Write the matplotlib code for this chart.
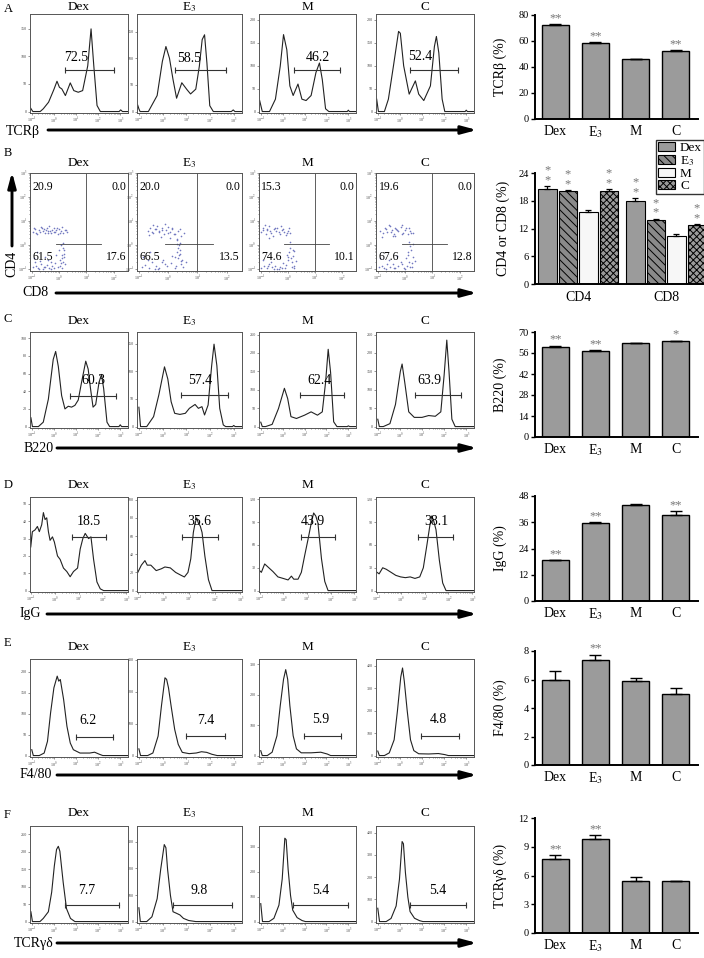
import numpy as np
import matplotlib
matplotlib.use("Agg")
import matplotlib.pyplot as plt
from matplotlib.patches import Patch, FancyArrowPatch

plt.rcParams['font.family'] = ['Liberation Serif', 'DejaVu Serif']
plt.rcParams['mathtext.fontset'] = 'stix'
plt.rcParams['hatch.linewidth'] = 0.7

W, H = 704, 958
fig = plt.figure(figsize=(W / 100, H / 100), dpi=100)

groups = ['Dex', 'E$_3$', 'M', 'C']

# ---------------- histogram data (log10 intensity, counts) ----------------
tcrb_dex_lx = [-1.08, -1.0, -0.95, -0.62, -0.48, -0.24, 0.0, 0.14, 0.25, 0.36, 0.52, 0.74, 0.9, 1.1, 1.3, 1.53, 1.68, 1.8, 1.95, 2.1, 2.95, 3.02, 3.1, 3.35]
tcrb_dex_ct = [8, 3, 0, 0, 5, 17, 40, 55, 44, 41, 29, 52, 38, 35, 38, 83, 150, 85, 11, 0, 0, 3, 0, 0]
tcrb_e3_lx = [-1.05, -1.0, -0.95, -0.6, -0.23, -0.01, 0.14, 0.29, 0.44, 0.59, 0.81, 1.03, 1.18, 1.4, 1.55, 1.67, 1.77, 1.87, 1.99, 2.14, 2.9, 2.98, 3.05, 3.35]
tcrb_e3_ct = [12, 5, 0, 0, 30, 94, 122, 100, 60, 25, 54, 41, 33, 42, 85, 135, 144, 91, 11, 0, 0, 3, 0, 0]
tcrb_m_lx = [-1.05, -0.93, -0.85, -0.6, -0.33, -0.11, 0.04, 0.19, 0.33, 0.48, 0.7, 0.88, 1.07, 1.3, 1.52, 1.68, 1.81, 1.96, 2.11, 2.95, 3.0, 3.05, 3.35]
tcrb_m_ct = [24, 0, 0, 0, 27, 99, 168, 135, 56, 35, 60, 27, 24, 35, 85, 106, 70, 6, 0, 0, 3, 0, 0]
tcrb_c_lx = [-1.05, -0.97, -0.9, -0.7, -0.52, -0.29, -0.06, 0.02, 0.17, 0.42, 0.7, 0.85, 1.08, 1.38, 1.56, 1.65, 1.76, 1.91, 2.03, 2.95, 3.0, 3.05, 3.35]
tcrb_c_ct = [27, 0, 0, 0, 27, 100, 175, 171, 100, 38, 67, 38, 24, 56, 142, 164, 128, 27, 0, 0, 3, 0, 0]

b220_dex_lx = [-1.04, -0.97, -0.7, -0.48, -0.25, -0.03, 0.08, 0.2, 0.35, 0.5, 0.65, 0.8, 0.95, 1.1, 1.25, 1.44, 1.55, 1.65, 1.77, 1.89, 2.04, 2.15, 2.25, 2.4, 2.52, 2.94, 3.0, 3.06, 3.35]
b220_dex_ct = [10, 0, 0, 5, 31, 76, 85, 68, 35, 20, 23, 22, 24, 30, 50, 74, 65, 44, 22, 25, 50, 59, 43, 5, 0, 0, 2, 0, 0]
b220_e3_lx = [-1.0, -0.93, -0.67, -0.38, -0.16, 0.08, 0.22, 0.36, 0.51, 0.73, 0.96, 1.13, 1.37, 1.51, 1.66, 1.77, 1.92, 2.07, 2.17, 2.29, 2.41, 2.56, 2.66, 2.95, 3.0, 3.06, 3.35]
b220_e3_ct = [35, 0, 0, 18, 57, 108, 86, 45, 24, 22, 24, 33, 40, 33, 36, 21, 39, 110, 149, 110, 33, 3, 0, 0, 2, 0, 0]
b220_m_lx = [-1.0, -0.93, -0.78, -0.48, -0.19, 0.08, 0.23, 0.38, 0.63, 1.0, 1.3, 1.59, 1.81, 1.96, 2.08, 2.19, 2.33, 2.48, 2.95, 3.0, 3.06, 3.35]
b220_m_ct = [12, 0, 0, 6, 49, 104, 76, 27, 22, 31, 40, 31, 40, 120, 210, 147, 13, 0, 0, 2, 0, 0]
b220_c_lx = [-1.0, -0.93, -0.75, -0.45, -0.2, 0.02, 0.1, 0.22, 0.4, 0.65, 1.0, 1.3, 1.6, 1.85, 2.0, 2.12, 2.22, 2.35, 2.5, 3.35]
b220_c_ct = [20, 0, 0, 8, 60, 150, 170, 120, 40, 25, 25, 30, 28, 40, 140, 235, 150, 20, 0, 0]

igg_dex_lx = [-1.03, -1.0, -0.93, -0.82, -0.72, -0.64, -0.54, -0.47, -0.4, -0.33, -0.26, -0.19, -0.09, -0.01, 0.12, 0.23, 0.37, 0.51, 0.65, 0.79, 0.96, 1.07, 1.18, 1.28, 1.42, 1.52, 1.63, 1.77, 1.91, 2.05, 3.07]
igg_dex_ct = [52, 25, 34, 35, 37, 34, 38, 45, 41, 42, 34, 29, 31, 28, 20, 18, 13, 11, 8, 11, 13, 24, 30, 33, 30, 31, 18, 5, 1, 0, 0]
igg_e3_lx = [-1.0, -0.86, -0.72, -0.63, -0.49, -0.28, -0.08, 0.06, 0.27, 0.48, 0.68, 0.82, 0.96, 1.07, 1.17, 1.23, 1.3, 1.37, 1.44, 1.51, 1.62, 1.76, 1.9, 3.07]
igg_e3_ct = [20, 28, 33, 28, 28, 22, 24, 26, 25, 20, 17, 15, 20, 35, 64, 73, 80, 74, 71, 64, 38, 12, 0, 0]
igg_m_lx = [-1.03, -0.93, -0.79, -0.65, -0.44, -0.23, -0.01, 0.2, 0.34, 0.44, 0.62, 0.76, 0.9, 1.04, 1.18, 1.28, 1.37, 1.46, 1.61, 1.75, 1.89, 3.07]
igg_m_ct = [27, 24, 35, 31, 25, 18, 16, 14, 19, 15, 15, 24, 46, 67, 89, 102, 98, 89, 42, 12, 0, 0]
igg_c_lx = [-1.03, -0.9, -0.75, -0.6, -0.4, -0.2, 0.0, 0.2, 0.4, 0.6, 0.8, 0.95, 1.1, 1.22, 1.3, 1.38, 1.48, 1.62, 1.76, 1.9, 3.07]
igg_c_ct = [25, 22, 30, 28, 24, 20, 18, 17, 18, 16, 18, 30, 60, 85, 98, 92, 80, 40, 10, 0, 0]

f480_dex_lx = [-1.0, -0.93, -0.66, -0.44, -0.29, -0.15, 0.0, 0.15, 0.22, 0.29, 0.44, 0.59, 0.74, 0.88, 1.18, 1.62, 1.84, 2.06, 2.21, 3.35]
f480_dex_ct = [14, 0, 0, 6, 34, 102, 162, 190, 178, 182, 134, 70, 30, 14, 6, 6, 8, 3, 0, 0]
f480_e3_lx = [-1.0, -0.93, -0.63, -0.41, -0.19, -0.05, 0.1, 0.17, 0.25, 0.36, 0.51, 0.66, 0.83, 1.12, 1.42, 1.64, 1.86, 2.08, 2.3, 3.35]
f480_e3_ct = [21, 0, 0, 8, 61, 155, 244, 239, 212, 155, 82, 35, 10, 6, 8, 12, 10, 4, 0, 0]
f480_m_lx = [-1.0, -0.93, -0.7, -0.48, -0.26, -0.11, 0.04, 0.14, 0.23, 0.33, 0.48, 0.63, 0.85, 1.3, 1.74, 2.04, 2.19, 3.35]
f480_m_ct = [16, 0, 0, 11, 65, 164, 251, 283, 251, 164, 65, 22, 9, 9, 11, 5, 0, 0]
f480_c_lx = [-1.0, -0.93, -0.7, -0.48, -0.26, -0.11, 0.04, 0.12, 0.2, 0.33, 0.48, 0.63, 0.85, 1.3, 1.74, 2.04, 2.19, 3.35]
f480_c_ct = [20, 0, 0, 12, 70, 200, 350, 390, 330, 200, 70, 22, 8, 7, 9, 4, 0, 0]

tcrgd_dex_lx = [-1.04, -0.97, -0.63, -0.48, -0.25, -0.1, 0.02, 0.12, 0.2, 0.27, 0.42, 0.57, 0.75, 0.95, 3.35]
tcrgd_dex_ct = [28, 0, 0, 9, 28, 84, 159, 206, 215, 201, 112, 37, 9, 0, 0]
tcrgd_e3_lx = [-1.0, -0.94, -0.67, -0.45, -0.23, -0.08, 0.07, 0.14, 0.21, 0.33, 0.44, 0.59, 0.73, 0.88, 1.1, 1.4, 3.35]
tcrgd_e3_ct = [52, 0, 0, 18, 86, 197, 290, 278, 197, 99, 37, 31, 25, 12, 4, 0, 0]
tcrgd_m_lx = [-1.0, -0.92, -0.62, -0.4, -0.17, -0.02, 0.1, 0.16, 0.25, 0.36, 0.46, 0.66, 0.89, 1.04, 3.35]
tcrgd_m_ct = [72, 0, 0, 13, 66, 171, 335, 329, 210, 105, 46, 16, 4, 0, 0]
tcrgd_c_lx = [-1.0, -0.92, -0.62, -0.4, -0.17, -0.02, 0.1, 0.16, 0.25, 0.36, 0.46, 0.66, 0.89, 1.04, 3.35]
tcrgd_c_ct = [60, 0, 0, 14, 70, 190, 360, 350, 220, 110, 45, 15, 4, 0, 0]

# gated percentages
tcrb_pct = ['72.5', '58.5', '46.2', '52.4']
b220_pct = ['60.3', '57.4', '62.4', '63.9']
igg_pct = ['18.5', '35.6', '43.9', '38.1']
f480_pct = ['6.2', '7.4', '5.9', '4.8']
tcrgd_pct = ['7.7', '9.8', '5.4', '5.4']

# ---------------- CD4 / CD8 dot plots (log10 CD8, log10 CD4) ----------------
cd_dex_x = [-0.95, -0.88, -0.8, -0.74, -0.66, -0.6, -0.55, -0.5, -0.45, -0.4, -0.35, -0.3, -0.25, -0.2, -0.15, -0.1, -0.05, 0.0, 0.08, 0.15, 0.22, 0.3,
            -0.92, -0.84, -0.7, -0.62, -0.48, -0.42, -0.32, -0.18, -0.08, 0.04, 0.12, 0.26,
            -0.95, -0.85, -0.75, -0.65, -0.55, -0.45, -0.35, -0.25, -0.15, -0.05, 0.05, 0.12, 0.18, 0.22, -0.9, -0.7, -0.5, -0.3, -0.1, 0.02, 0.1, 0.15, -0.8, -0.6, -0.4, -0.2, 0.0, 0.08, 0.2, 0.14,
            0.16, 0.1, 0.2, 0.06, -0.72, -0.52, -0.28, -0.88]
cd_dex_y = [0.55, 0.68, 0.48, 0.62, 0.74, 0.58, 0.66, 0.52, 0.7, 0.6, 0.78, 0.5, 0.64, 0.72, 0.56, 0.62, 0.45, 0.68, 0.58, 0.5, 0.65, 0.55,
            0.72, 0.5, 0.56, 0.7, 0.62, 0.5, 0.6, 0.55, 0.7, 0.52, 0.75, 0.62,
            -0.92, -0.85, -0.95, -0.78, -0.9, -0.82, -0.95, -0.88, -0.75, -0.92, -0.6, -0.4, -0.2, -0.8, -0.55, -0.65, -0.5, -0.7, -0.4, -0.85, -0.95, 0.1, -0.3, -0.98, -0.6, -0.96, -0.2, 0.0, -0.5, -0.7,
            -0.1, -0.55, -0.35, -0.75, -0.98, -0.9, -0.97, -0.7]
cd_e3_x = [-0.7, -0.6, -0.52, -0.45, -0.38, -0.3, -0.22, -0.15, -0.08, 0.0, 0.08, 0.15, 0.25, 0.35, 0.45, 0.55, -0.5, -0.25, 0.05, 0.3, -0.65, -0.1,
           -0.55, -0.4, -0.2, -0.02, 0.12, 0.2, -0.32, 0.4,
           -0.9, -0.78, -0.66, -0.55, -0.42, -0.3, -0.18, -0.05, 0.1, 0.22, 0.3, 0.35, 0.4, 0.45, 0.28, 0.38, 0.32, 0.42, 0.5, 0.6, -0.85, -0.6, -0.35, -0.1, 0.15, 0.25, 0.36, 0.48,
           0.34, 0.44, 0.3, 0.4, -0.7, -0.45, -0.2]
cd_e3_y = [0.6, 0.72, 0.5, 0.66, 0.8, 0.58, 0.7, 0.45, 0.62, 0.75, 0.55, 0.68, 0.48, 0.6, 0.4, 0.52, 0.85, 0.35, 0.3, 0.25,
           0.42, 0.88,
           0.55, 0.68, 0.62, 0.52, 0.7, 0.45, 0.56, 0.66,
           -0.9, -0.82, -0.95, -0.7, -0.88, -0.93, -0.6, -0.85, -0.75, -0.5, -0.3, -0.1, 0.1, -0.65, -0.85, -0.4, 0.2, -0.2, -0.9, -0.7, -0.5, -0.3, -0.98, -0.8, -0.45, -0.96, 0.0, -0.6,
           -0.55, -0.78, 0.05, -0.35, -0.6, -0.97, -0.7]
cd_m_x = [-0.98, -0.9, -0.82, -0.75, -0.68, -0.6, -0.52, -0.45, -0.38, -0.3, -0.22, -0.15, -0.08, 0.0, 0.1, -0.85, -0.55, -0.25, 0.05, -0.7,
          -0.92, -0.64, -0.48, -0.34, -0.18, -0.04, -0.78,
          -0.98, -0.88, -0.78, -0.68, -0.58, -0.48, -0.38, -0.28, -0.18, -0.1, 0.0, 0.05, 0.1, 0.15, 0.2, 0.25, 0.08, 0.18, -0.05, 0.12, 0.22, -0.92, -0.62, -0.32, -0.02, 0.3,
          0.02, 0.14, 0.24, -0.5, -0.72, -0.2]
cd_m_y = [0.55, 0.7, 0.45, 0.62, 0.78, 0.5, 0.66, 0.58, 0.72, 0.48, 0.64, 0.55, 0.42, 0.6, 0.5, 0.85, 0.38, 0.8, 0.7, 0.3,
          0.62, 0.6, 0.7, 0.55, 0.68, 0.52, 0.68,
          -0.95, -0.88, -0.96, -0.8, -0.92, -0.85, -0.97, -0.9, -0.75, -0.93, -0.6, -0.3, -0.1, -0.7, -0.45, -0.85, 0.15, -0.2, -0.82, -0.55, -0.95, -0.6, -0.7, -0.98, -0.4, -0.65,
          -0.5, -0.9, -0.25, -0.98, -0.86, -0.96]
cd_c_x = [-0.9, -0.8, -0.72, -0.64, -0.56, -0.48, -0.4, -0.32, -0.24, -0.16, -0.08, 0.0, 0.1, 0.2, 0.3, -0.6, -0.35, -0.1, 0.15, -0.85, -0.45,
          -0.68, -0.52, -0.28, -0.12, 0.05, -0.38, 0.22,
          -0.95, -0.85, -0.75, -0.65, -0.55, -0.45, -0.35, -0.25, -0.15, -0.05, 0.05, 0.12, 0.18, 0.25, 0.3, 0.15, 0.22, 0.08, 0.35, -0.9, -0.6, -0.3, 0.0, 0.2, 0.28,
          0.1, 0.26, 0.16, -0.7, -0.4, -0.1]
cd_c_y = [0.6, 0.5, 0.7, 0.55, 0.78, 0.62, 0.48, 0.68, 0.58, 0.74, 0.52, 0.64, 0.45, 0.6, 0.5, 0.85, 0.38, 0.82, 0.7, 0.35, 0.4,
          0.66, 0.56, 0.62, 0.46, 0.72, 0.7, 0.52,
          -0.9, -0.85, -0.95, -0.78, -0.92, -0.8, -0.96, -0.88, -0.7, -0.93, -0.55, -0.3, -0.05, -0.75, -0.5, 0.15, -0.2, -0.85, -0.65, -0.55, -0.62, -0.45, -0.98, -0.9, 0.05,
          -0.4, -0.9, -0.7, -0.97, -0.93, -0.8]
cd_ul = ['20.9', '20.0', '15.3', '19.6']
cd_ur = ['0.0', '0.0', '0.0', '0.0']
cd_ll = ['61.5', '66.5', '74.6', '67.6']
cd_lr = ['17.6', '13.5', '10.1', '12.8']

# ---------------- bar chart data (mean, SEM) ----------------
tcrb_mean = [72.5, 58.5, 46.0, 52.4]
tcrb_err = [0.4, 0.5, 0.4, 0.4]
tcrb_sig = ['**', '**', '', '**']
cd_groups = ['CD4', 'CD8']
cd4_mean = [20.6, 20.1, 15.5, 20.1]
cd4_err = [0.5, 0.2, 0.4, 0.4]
cd8_mean = [17.9, 13.8, 10.4, 12.7]
cd8_err = [0.6, 0.3, 0.4, 0.3]
cd4_sig = ['**', '**', '', '**']
cd8_sig = ['**', '**', '', '**']
b220_mean = [60.3, 57.5, 62.4, 63.9]
b220_err = [0.5, 0.4, 0.4, 0.4]
b220_sig = ['**', '**', '', '*']
igg_mean = [18.6, 35.6, 43.9, 39.3]
igg_err = [0.2, 0.3, 0.4, 1.7]
igg_sig = ['**', '**', '', '**']
f480_mean = [6.0, 7.4, 5.9, 5.0]
f480_err = [0.6, 0.35, 0.2, 0.4]
f480_sig = ['', '**', '', '']
tcrgd_mean = [7.7, 9.8, 5.45, 5.4]
tcrgd_err = [0.4, 0.4, 0.35, 0.05]
tcrgd_sig = ['**', '**', '', '']


# ---------------- helpers ----------------
def px_axes(x0, y0, x1, y1):
    return fig.add_axes([x0 / W, 1 - y1 / H, (x1 - x0) / W, (y1 - y0) / H])


def ftext(x, y, s, **kw):
    fig.text(x / W, 1 - y / H, s, **kw)


def farrow(x0, y0, x1, y1):
    fig.add_artist(FancyArrowPatch((x0 / W, 1 - y0 / H), (x1 / W, 1 - y1 / H),
                                   transform=fig.transFigure, color='black', lw=2.1,
                                   arrowstyle='-|>,head_length=9,head_width=2.4',
                                   shrinkA=0, shrinkB=0))


def log_ticks(axis, lo, hi):
    axis.set_ticks(list(range(lo, hi + 1)))
    axis.set_ticklabels(['10$^{%d}$' % d for d in range(lo, hi + 1)])
    axis.set_ticks([d + np.log10(k) for d in range(lo, hi) for k in range(2, 10)], minor=True)


def frame_style(ax):
    for s in ax.spines.values():
        s.set_color('#555555')
        s.set_linewidth(0.7)
    ax.tick_params(which='both', labelsize=3, length=1.6, width=0.4, pad=0.6, colors='#444444')
    ax.tick_params(which='minor', length=0.9)


def hist_panel(ax, lx, ct, ymax, ystep, gate, pct, lab, xlim=(-1.08, 3.35)):
    ax.plot(lx, ct, color='#222222', lw=0.8)
    ax.set_xlim(*xlim)
    ax.set_ylim(-0.015 * ymax, ymax)
    log_ticks(ax.xaxis, -1, 3)
    ax.set_yticks(np.arange(0, ymax, ystep))
    frame_style(ax)
    ax.plot([gate[0], gate[1]], [gate[2], gate[2]], color='#333333', lw=0.8,
            marker='|', ms=4.5, mew=0.8)
    ax.text(lab[0], lab[1], pct, ha='center', va='center', fontsize=10)


cols = [(30, 128), (137, 242), (259, 356), (376, 474)]


def hist_row(ytop, ybot, ytitle, curves, ylims, gates, pcts, labs, xlim=(-1.08, 3.35)):
    for i, (x0, x1) in enumerate(cols):
        ax = px_axes(x0, ytop, x1, ybot)
        lx, ct = curves[i]
        hist_panel(ax, lx, ct, ylims[i][0], ylims[i][1], gates[i], pcts[i], labs[i], xlim)
        ftext((x0 + x1) / 2, ytitle, groups[i], ha='center', va='center', fontsize=9.5)


def bar_row(ytop, ybot, ymax, step, means, errs, sig, ylabel):
    ax = px_axes(535, ytop, 698, ybot)
    x = np.arange(len(groups))
    ax.bar(x, means, width=0.68, color='#9b9b9b', edgecolor='black', lw=1.0,
           yerr=[[0] * 4, errs], capsize=4.5, error_kw=dict(lw=1.0, capthick=1.0))
    for i in range(4):
        if sig[i]:
            ax.annotate(sig[i], (x[i], means[i] + errs[i]), xytext=(0, 0), textcoords='offset points',
                        ha='center', va='bottom', fontsize=9, color='#777777')
    ax.set_xlim(-0.51, 3.56)
    ax.set_ylim(0, ymax)
    ax.set_yticks(np.arange(0, ymax + step / 2, step))
    ax.set_xticks(x)
    ax.set_xticklabels(groups, fontsize=10)
    ax.tick_params(axis='x', length=0, pad=4)
    ax.tick_params(axis='y', labelsize=7.5, length=3, width=1, pad=1.5)
    for s in ['top', 'right']:
        ax.spines[s].set_visible(False)
    for s in ['left', 'bottom']:
        ax.spines[s].set_linewidth(1.4)
    ftext(500, (ytop + ybot) / 2, ylabel, rotation=90, ha='center', va='center', fontsize=10)
    return ax


# ---------------- row A : TCRb ----------------
ftext(4, 9, 'A', fontsize=9, va='center')
hist_row(14, 113, 7,
         [(tcrb_dex_lx, tcrb_dex_ct), (tcrb_e3_lx, tcrb_e3_ct), (tcrb_m_lx, tcrb_m_ct), (tcrb_c_lx, tcrb_c_ct)],
         [(177, 50), (183, 50), (213, 50), (213, 50)],
         [(0.52, 2.71, 75), (0.52, 2.67, 78), (0.51, 2.63, 91), (0.44, 2.64, 91)],
         tcrb_pct,
         [(1.0, 98), (1.1, 100), (1.59, 117), (0.92, 121)])
ftext(6, 131, 'TCRβ', fontsize=10, va='center')
farrow(48, 130, 477, 130)
bar_row(15, 119, 80, 20, tcrb_mean, tcrb_err, tcrb_sig, 'TCRβ (%)')

# ---------------- row B : CD4 / CD8 ----------------
ftext(4, 153, 'B', fontsize=9, va='center')
cd_sets = [(cd_dex_x, cd_dex_y), (cd_e3_x, cd_e3_y), (cd_m_x, cd_m_y), (cd_c_x, cd_c_y)]
for i, (x0, x1) in enumerate(cols):
    ax = px_axes(x0, 173, x1, 271)
    ax.scatter(cd_sets[i][0], cd_sets[i][1], s=1.4, color='#7278c0', linewidths=0)
    ax.set_xlim(-1.06, 2.52)
    ax.set_ylim(-1.07, 3.0)
    log_ticks(ax.xaxis, -1, 2)
    log_ticks(ax.yaxis, -1, 3)
    frame_style(ax)
    ax.axvline(1.0, color='#444444', lw=0.6)
    ax.plot([-0.12, 1.52], [0.05, 0.05], color='#444444', lw=0.6)
    ax.text(-0.97, 2.42, cd_ul[i], ha='left', va='center', fontsize=8.5)
    ax.text(2.45, 2.42, cd_ur[i], ha='right', va='center', fontsize=8.5)
    ax.text(-0.97, -0.5, cd_ll[i], ha='left', va='center', fontsize=8.5)
    ax.text(2.45, -0.5, cd_lr[i], ha='right', va='center', fontsize=8.5)
    ftext((x0 + x1) / 2, 163, groups[i], ha='center', va='center', fontsize=9.5)
ftext(22, 293, 'CD8', fontsize=10, va='center')
farrow(56, 293, 477, 293)
ftext(12, 264, 'CD4', fontsize=10, rotation=90, ha='center', va='center')
farrow(12, 246, 12, 172)

ax = px_axes(535, 173, 704, 284)
gx = np.arange(2)
off = 0.233
hatches = [None, '\\\\\\\\', None, 'xxxxx']
faces = ['#9b9b9b', '#8a8a8a', '#f7f7f7', '#9b9b9b']
for j in range(4):
    m = [cd4_mean[j], cd8_mean[j]]
    e = [cd4_err[j], cd8_err[j]]
    ax.bar(gx + (j - 1.5) * off, m, width=0.21, color=faces[j], hatch=hatches[j],
           edgecolor='black', lw=0.8, yerr=[[0, 0], e], capsize=2.5,
           error_kw=dict(lw=0.9, capthick=0.9))
    for g, s in enumerate([cd4_sig[j], cd8_sig[j]]):
        if s:
            ax.annotate('*\n*', (gx[g] + (j - 1.5) * off, m[g] + e[g]), xytext=(0, 0),
                        textcoords='offset points', ha='center', va='bottom',
                        fontsize=9, color='#777777', linespacing=0.75)
ax.set_xlim(-0.489, 1.43)
ax.set_ylim(0, 24)
ax.set_yticks(np.arange(0, 25, 6))
ax.set_xticks(gx)
ax.set_xticklabels(cd_groups, fontsize=10)
ax.tick_params(axis='x', length=0, pad=5)
ax.tick_params(axis='y', labelsize=7.5, length=3, width=1, pad=1.5)
for s in ['top', 'right']:
    ax.spines[s].set_visible(False)
for s in ['left', 'bottom']:
    ax.spines[s].set_linewidth(1.4)
handles = [Patch(facecolor=faces[j], hatch=hatches[j], edgecolor='black', lw=0.8) for j in range(4)]
ax.legend(handles, groups, loc='upper right', bbox_to_anchor=(704 / W, 1 - 140 / H),
          bbox_transform=fig.transFigure, frameon=True, fancybox=False, edgecolor='black',
          fontsize=9.5, handlelength=1.3, handleheight=0.7, borderpad=0.15, labelspacing=0.0,
          handletextpad=0.4, borderaxespad=0)
ftext(503, 228, 'CD4 or CD8 (%)', rotation=90, ha='center', va='center', fontsize=10)

# ---------------- row C : B220 ----------------
ftext(4, 319, 'C', fontsize=9, va='center')
hist_row(332, 428, 321,
         [(b220_dex_lx, b220_dex_ct), (b220_e3_lx, b220_e3_ct), (b220_m_lx, b220_m_ct), (b220_c_lx, b220_c_ct)],
         [(107, 20), (171, 50), (257, 50), (257, 50)],
         [(0.75, 2.79, 35), (0.76, 2.78, 57), (0.78, 2.81, 85), (0.7, 2.75, 85)],
         b220_pct,
         [(1.77, 52), (1.58, 83), (1.67, 125), (1.35, 125)])
ftext(24, 448, 'B220', fontsize=10, va='center')
farrow(57, 448, 477, 448)
bar_row(332, 437, 70, 14, b220_mean, b220_err, b220_sig, 'B220 (%)')

# ---------------- row D : IgG ----------------
ftext(4, 485, 'D', fontsize=9, va='center')
hist_row(497, 592, 485,
         [(igg_dex_lx, igg_dex_ct), (igg_e3_lx, igg_e3_ct), (igg_m_lx, igg_m_ct), (igg_c_lx, igg_c_ct)],
         [(54, 10), (103, 20), (123, 30), (123, 30)],
         [(0.72, 2.16, 31), (0.71, 2.13, 59), (0.73, 2.2, 71), (0.73, 2.2, 71)],
         igg_pct,
         [(1.42, 40), (1.4, 76), (1.25, 91), (1.5, 91)],
         xlim=(-1.03, 3.07))
ftext(20, 614, 'IgG', fontsize=10, va='center')
farrow(47, 614, 477, 614)
bar_row(496, 601, 48, 12, igg_mean, igg_err, igg_sig, 'IgG (%)')

# ---------------- row E : F4/80 ----------------
ftext(4, 643, 'E', fontsize=9, va='center')
hist_row(659, 757, 647,
         [(f480_dex_lx, f480_dex_ct), (f480_e3_lx, f480_e3_ct), (f480_m_lx, f480_m_ct), (f480_c_lx, f480_c_ct)],
         [(231, 50), (303, 100), (318, 100), (430, 100)],
         [(1.0, 2.65, 45), (1.0, 2.63, 60), (0.97, 2.66, 64), (0.97, 2.66, 85)],
         f480_pct,
         [(1.54, 84), (1.83, 111), (1.74, 118), (1.74, 160)])
ftext(20, 775, 'F4/80', fontsize=10, va='center')
farrow(57, 775, 477, 775)
bar_row(651, 765, 8, 2, f480_mean, f480_err, f480_sig, 'F4/80 (%)')

# ---------------- row F : TCRgd ----------------
ftext(4, 815, 'F', fontsize=9, va='center')
hist_row(826, 923, 813,
         [(tcrgd_dex_lx, tcrgd_dex_ct), (tcrgd_e3_lx, tcrgd_e3_ct), (tcrgd_m_lx, tcrgd_m_ct), (tcrgd_c_lx, tcrgd_c_ct)],
         [(273, 50), (360, 100), (384, 100), (430, 100)],
         [(0.5, 2.94, 47), (0.44, 2.93, 62), (0.46, 2.97, 66), (0.46, 2.97, 74)],
         tcrgd_pct,
         [(1.5, 89), (1.52, 117), (1.72, 125), (1.72, 140)])
ftext(14, 943, 'TCRγδ', fontsize=10, va='center')
farrow(57, 943, 477, 943)
bar_row(818, 933, 12, 3, tcrgd_mean, tcrgd_err, tcrgd_sig, 'TCRγδ (%)')

fig.savefig('out.png', dpi=100)
